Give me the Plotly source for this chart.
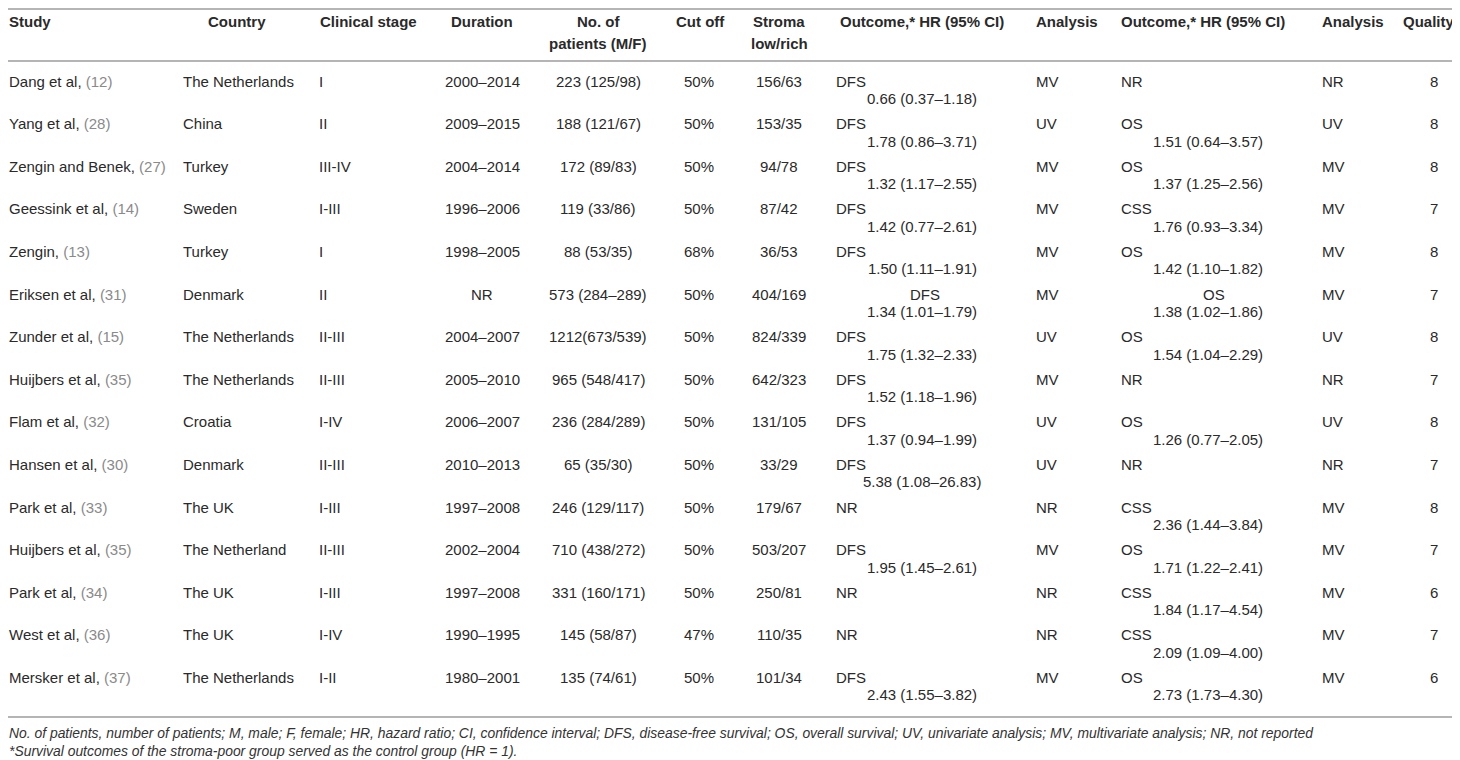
import plotly.graph_objects as go

# table contents
studies = ["Dang et al,", "Yang et al,", "Zengin and Benek,", "Geessink et al,", "Zengin,",
           "Eriksen et al,", "Zunder et al,", "Huijbers et al,", "Flam et al,", "Hansen et al,",
           "Park et al,", "Huijbers et al,", "Park et al,", "West et al,", "Mersker et al,"]
refs = [12, 28, 27, 14, 13, 31, 15, 35, 32, 30, 33, 35, 34, 36, 37]
countries = ["The Netherlands", "China", "Turkey", "Sweden", "Turkey", "Denmark",
             "The Netherlands", "The Netherlands", "Croatia", "Denmark", "The UK",
             "The Netherland", "The UK", "The UK", "The Netherlands"]
stages = ["I", "II", "III-IV", "I-III", "I", "II", "II-III", "II-III", "I-IV", "II-III",
          "I-III", "II-III", "I-III", "I-IV", "I-II"]
durations = ["2000–2014", "2009–2015", "2004–2014", "1996–2006", "1998–2005", "NR",
             "2004–2007", "2005–2010", "2006–2007", "2010–2013", "1997–2008", "2002–2004",
             "1997–2008", "1990–1995", "1980–2001"]
patients = ["223 (125/98)", "188 (121/67)", "172 (89/83)", "119 (33/86)", "88 (53/35)",
            "573 (284–289)", "1212(673/539)", "965 (548/417)", "236 (284/289)", "65 (35/30)",
            "246 (129/117)", "710 (438/272)", "331 (160/171)", "145 (58/87)", "135 (74/61)"]
cutoffs = ["50%", "50%", "50%", "50%", "68%", "50%", "50%", "50%", "50%", "50%",
           "50%", "50%", "50%", "47%", "50%"]
stroma = ["156/63", "153/35", "94/78", "87/42", "36/53", "404/169", "824/339", "642/323",
          "131/105", "33/29", "179/67", "503/207", "250/81", "110/35", "101/34"]
outcome1 = ["DFS", "DFS", "DFS", "DFS", "DFS", "DFS", "DFS", "DFS", "DFS", "DFS",
            "NR", "DFS", "NR", "NR", "DFS"]
hr1 = ["0.66 (0.37–1.18)", "1.78 (0.86–3.71)", "1.32 (1.17–2.55)", "1.42 (0.77–2.61)",
       "1.50 (1.11–1.91)", "1.34 (1.01–1.79)", "1.75 (1.32–2.33)", "1.52 (1.18–1.96)",
       "1.37 (0.94–1.99)", "5.38 (1.08–26.83)", "", "1.95 (1.45–2.61)", "", "",
       "2.43 (1.55–3.82)"]
analysis1 = ["MV", "UV", "MV", "MV", "MV", "MV", "UV", "MV", "UV", "UV",
             "NR", "MV", "NR", "NR", "MV"]
outcome2 = ["NR", "OS", "OS", "CSS", "OS", "OS", "OS", "NR", "OS", "NR",
            "CSS", "OS", "CSS", "CSS", "OS"]
hr2 = ["", "1.51 (0.64–3.57)", "1.37 (1.25–2.56)", "1.76 (0.93–3.34)", "1.42 (1.10–1.82)",
       "1.38 (1.02–1.86)", "1.54 (1.04–2.29)", "", "1.26 (0.77–2.05)", "",
       "2.36 (1.44–3.84)", "1.71 (1.22–2.41)", "1.84 (1.17–4.54)", "2.09 (1.09–4.00)",
       "2.73 (1.73–4.30)"]
analysis2 = ["NR", "UV", "MV", "MV", "MV", "MV", "UV", "NR", "UV", "NR",
             "MV", "MV", "MV", "MV", "MV"]
quality = [8, 8, 8, 7, 8, 7, 8, 7, 8, 7, 8, 7, 6, 7, 6]
centered_outcome_rows = [5]  # Eriksen row has both lines centred

# headers: (text, x, anchor)
headers = [
    ("Study", 8, "left"), ("Country", 237, "center"), ("Clinical stage", 368, "center"),
    ("Duration", 482, "center"), ("No. of<br>patients (M/F)", 598, "center"),
    ("Cut off", 700, "center"), ("Stroma<br>low/rich", 779, "center"),
    ("Outcome,* HR (95% CI)", 922, "center"), ("Analysis", 1035, "left"),
    ("Outcome,* HR (95% CI)", 1203, "center"), ("Analysis", 1321, "left"),
    ("Quality", 1456, "right"),
]
footnotes = [
    "No. of patients, number of patients; M, male; F, female; HR, hazard ratio; CI, confidence "
    "interval; DFS, disease-free survival; OS, overall survival; UV, univariate analysis; "
    "MV, multivariate analysis; NR, not reported",
    "*Survival outcomes of the stroma-poor group served as the control group (HR = 1).",
]

FONT = "Liberation Sans, Arial, sans-serif"
TXT = "#2a2a2a"
REF = "#8a8a8a"
LINE = "#b5b5b5"
ROW0, ROW_H, SUB = 81, 42.6, 17.5
LEFT = 8  # the page puts the plot 8px in, so the first column starts there

fig = go.Figure()
ann = []


def cell(text, x, y, anchor="left", bold=False, italic=False, size=15, color=TXT):
    ann.append(dict(
        x=x, y=y, xref="x", yref="y", text=text, showarrow=False,
        xanchor=anchor, yanchor="middle", align=anchor,
        borderpad=0,
        font=dict(family=FONT, size=size, color=color,
                  weight="bold" if bold else "normal",
                  style="italic" if italic else "normal"),
    ))


for text, x, anchor in headers:
    for k, ln in enumerate(text.split("<br>")):
        cell(ln, x, 21 + 22 * k, anchor, bold=True)

for i in range(len(studies)):
    y = ROW0 + ROW_H * i
    cell(f"{studies[i]} <span style='color:{REF}'>({refs[i]})</span>", LEFT, y)
    cell(countries[i], 182, y)
    cell(stages[i], 318, y)
    cell(durations[i], 482, y, "center")
    cell(patients[i], 598, y, "center")
    cell(cutoffs[i], 699, y, "center")
    cell(stroma[i], 779, y, "center")
    if i in centered_outcome_rows:
        cell(outcome1[i], 925, y, "center")
        cell(outcome2[i], 1214, y, "center")
    else:
        cell(outcome1[i], 835, y)
        cell(outcome2[i], 1120, y)
    if hr1[i]:
        cell(hr1[i], 922, y + SUB, "center")
    if hr2[i]:
        cell(hr2[i], 1208, y + SUB, "center")
    cell(analysis1[i], 1035, y)
    cell(analysis2[i], 1321, y)
    cell(str(quality[i]), 1434, y, "center")

for k, note in enumerate(footnotes):
    cell(note, LEFT, 733 + 18 * k, italic=True, size=13.9, color="#333333")

# horizontal rules
for yl in [9, 61, 717]:
    fig.add_shape(type="line", x0=LEFT, x1=1459, y0=yl, y1=yl, xref="x", yref="y",
                  line=dict(color=LINE, width=2))

# axis units are window pixels; the figure itself sits 8px in from the corner
fig.update_layout(
    width=1452, height=752,
    margin=dict(l=0, r=0, t=0, b=0),
    paper_bgcolor="white", plot_bgcolor="white",
    annotations=ann,
    xaxis=dict(range=[8, 1460], visible=False, fixedrange=True),
    yaxis=dict(range=[760, 8], visible=False, fixedrange=True),
    showlegend=False,
)

fig.write_html("out.html")
